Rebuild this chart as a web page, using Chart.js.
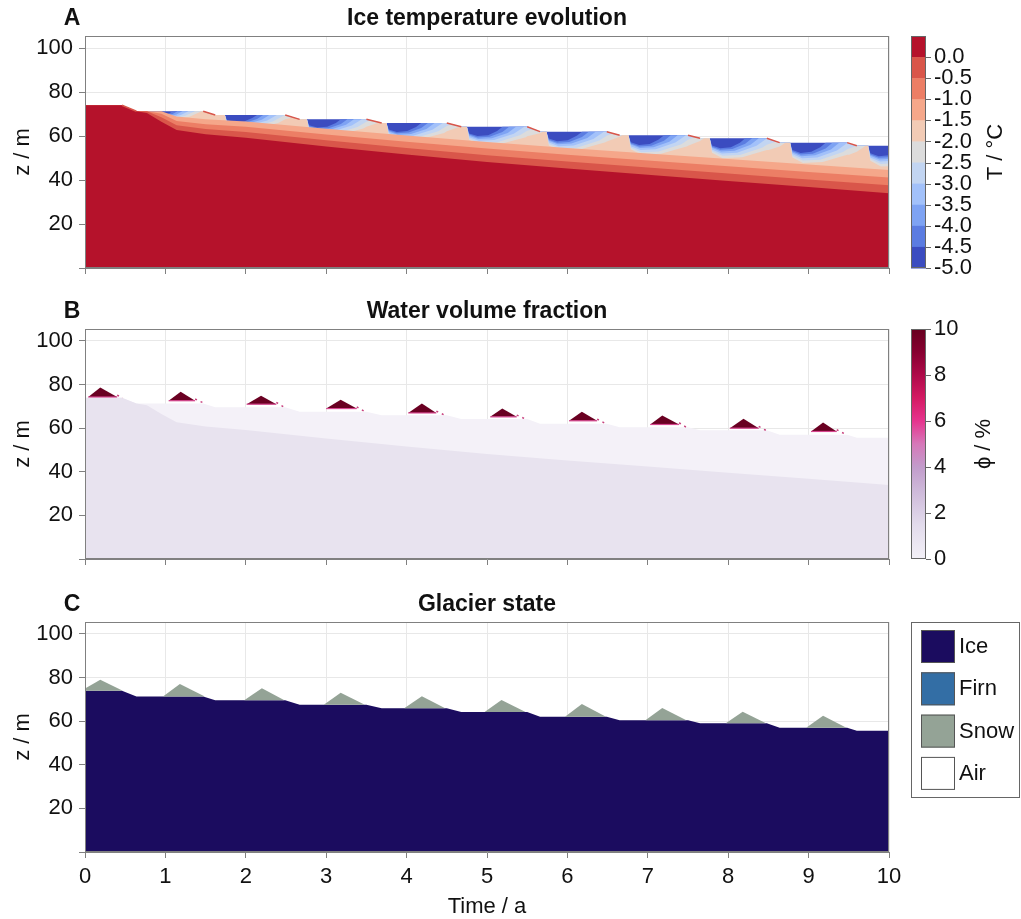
<!DOCTYPE html>
<html>
<head>
<meta charset="utf-8">
<script src="https://cdn.jsdelivr.net/npm/chart.js@4.4.0/dist/chart.umd.min.js"></script>
<style>
  html, body { margin: 0; padding: 0; background: #fff; }
  #wrap { position: relative; width: 1021px; height: 919px; }
  canvas { position: absolute; left: 0; }
</style>
</head>
<body>
<div id="wrap">
  <canvas id="cA" width="1021" height="290" style="top:0px"></canvas>
  <canvas id="cB" width="1021" height="290" style="top:290px"></canvas>
  <canvas id="cC" width="1021" height="339" style="top:580px"></canvas>
</div>
<script>
// glacier surface (top of ice), time in a, height in m
const surfT = [0, 0.46, 0.64, 1.47, 1.62, 2.49, 2.67, 3.5, 3.69, 4.5, 4.68, 5.5, 5.66, 6.49, 6.65, 7.5, 7.65, 8.48, 8.64, 9.48, 9.6, 10];
const surfZ = [74, 74, 71.3, 71.3, 69.6, 69.6, 67.6, 67.6, 65.9, 65.9, 64.2, 64.2, 62.0, 62.0, 60.4, 60.4, 59.0, 59.0, 57.0, 57.0, 55.6, 55.6];

// isotherm tops under the cold layer (0, -0.5, -1.0, -1.5 degC)
const bandT  = [0, 0.46, 0.64, 0.77, 0.95, 1.14, 1.5, 2, 3, 4, 5, 6, 7, 8, 9, 10];
const redTop = [74, 74, 71.3, 70.5, 66.5, 62.7, 60.8, 59.2, 55.3, 51.6, 48.2, 45.2, 42.4, 39.6, 36.8, 34.0];
const dorTop = [74, 74, 71.3, 71.3, 68.5, 64.9, 63.2, 61.8, 58.1, 54.6, 51.3, 48.4, 45.7, 43.0, 40.3, 37.6];
const orTop  = [74, 74, 71.3, 71.3, 70.2, 66.9, 65.4, 64.2, 60.7, 57.4, 54.3, 51.5, 48.9, 46.3, 43.7, 41.1];
const salTop = [74, 74, 71.3, 71.3, 71.3, 68.9, 67.6, 66.6, 63.3, 60.2, 57.3, 54.6, 52.1, 49.6, 47.1, 44.6];

// winter cold waves below the surface
const pocketStart  = [0.77, 1.74, 2.76, 3.75, 4.75, 5.74, 6.76, 7.77, 8.77, 9.74];
const pocketDepth  = [4.5, 6.5, 7.5, 8.0, 8.4, 8.7, 8.9, 9.1, 9.3, 9.5];
const pocketLength = [0.68, 0.85, 0.9, 0.92, 0.94, 0.94, 0.94, 0.94, 0.94, 0.94];
// shape of each isotherm in a wave: phase (0..1) and depth fraction
// order: -4.5, -4.0, -3.5, -3.0, -2.5, -2.0 degC
const wavePhase = [
  [0, 0.03, 0.14, 0.28, 0.40, 0.47],
  [0, 0.03, 0.14, 0.30, 0.47, 0.56],
  [0, 0.03, 0.15, 0.33, 0.54, 0.65],
  [0, 0.03, 0.16, 0.36, 0.62, 0.76],
  [0, 0.03, 0.17, 0.40, 0.70, 0.88],
  [0, 0.03, 0.17, 0.43, 0.78, 1.0]
];
const waveDepth = [
  [0, 0.36, 0.50, 0.45, 0.22, 0],
  [0, 0.42, 0.58, 0.54, 0.28, 0],
  [0, 0.48, 0.66, 0.62, 0.33, 0],
  [0, 0.56, 0.76, 0.72, 0.38, 0],
  [0, 0.64, 0.87, 0.84, 0.46, 0],
  [0, 0.72, 1.00, 0.95, 0.56, 0]
];

// water-saturated snow (panel B)
const waterStartT = [0.04, 1.04, 2.01, 3.0, 4.02, 5.04, 6.02, 7.03, 8.02, 9.03];
const waterPeakT  = [0.19, 1.19, 2.19, 3.18, 4.19, 5.19, 6.18, 7.18, 8.19, 9.18];
const waterPeakZ  = [78.7, 76.7, 74.9, 73.0, 71.3, 69.0, 67.5, 65.8, 64.3, 62.6];
const waterEndT   = [0.40, 1.37, 2.38, 3.38, 4.37, 5.37, 6.37, 7.39, 8.38, 9.35];
const waterBaseZ  = [74.3, 72.6, 71.0, 69.0, 67.0, 65.2, 63.4, 61.7, 60.0, 58.5];

// snow cover (panel C)
const snowStartT = [0, 0.97, 1.98, 2.97, 3.97, 4.97, 5.97, 6.97, 7.97, 8.97];
const snowStartZ = [75.0, 71.3, 69.6, 67.6, 65.9, 64.2, 62.0, 60.4, 59.0, 57.0];
const snowPeakT  = [0.19, 1.18, 2.2, 3.18, 4.19, 5.18, 6.18, 7.18, 8.18, 9.18];
const snowPeakZ  = [79.0, 77.1, 75.1, 73.1, 71.4, 69.7, 67.9, 66.0, 64.3, 62.5];
const snowEndT   = [0.47, 1.49, 2.48, 3.48, 4.48, 5.48, 6.48, 7.48, 8.47, 9.47];
const snowBaseZ  = [74, 71.3, 69.6, 67.6, 65.9, 64.2, 62.0, 60.4, 59.0, 57.0];

const xTicks = [0, 1, 2, 3, 4, 5, 6, 7, 8, 9, 10];
const tempTicks = ['0.0', '-0.5', '-1.0', '-1.5', '-2.0', '-2.5', '-3.0', '-3.5', '-4.0', '-4.5', '-5.0'];
const phiTicks = [10, 8, 6, 4, 2, 0];

// colours of the temperature levels, warm to cold
const tempColors = ['#b5122b', '#d9564a', '#ec7e65', '#f5a78a', '#f2cbb5', '#dcdcdc',
                    '#c2d5f2', '#a2c1fa', '#7ea3f3', '#5b7ce1', '#3b4cc0'];
const ICE = '#1b0c5f', FIRN = '#336ea5', SNOW = '#94a396';
const FONT = '"Liberation Sans", Arial, Helvetica, sans-serif';
const FS = 22;

Chart.defaults.font.family = FONT;
Chart.defaults.font.size = FS;
Chart.defaults.color = '#111';

function interp(xs, ys, t) {
  if (t <= xs[0]) return ys[0];
  for (let i = 1; i < xs.length; i++) {
    if (t <= xs[i]) {
      const f = (t - xs[i - 1]) / (xs[i] - xs[i - 1] || 1);
      return ys[i - 1] + f * (ys[i] - ys[i - 1]);
    }
  }
  return ys[ys.length - 1];
}
const pts = (xs, ys) => xs.map((x, i) => ({ x, y: ys[i] }));

// bottom of one isotherm band: surface minus the wave depth
function waveCurve(b) {
  let ts = surfT.slice();
  pocketStart.forEach((s, k) => wavePhase[b].forEach(p => ts.push(s + p * pocketLength[k])));
  ts = ts.filter(t => t <= 10.8).sort((a, c) => a - c);
  return ts.map(t => {
    let d = 0;
    pocketStart.forEach((s, k) => {
      const e = s + pocketLength[k];
      if (t >= s && t <= e) {
        d = interp(wavePhase[b].map(p => s + p * pocketLength[k]), waveDepth[b], t) * pocketDepth[k];
      }
    });
    return { x: t, y: interp(surfT, surfZ, t) - d };
  });
}

function area(data, color, fill) {
  return { data, backgroundColor: color, borderColor: 'rgba(0,0,0,0)', borderWidth: 0,
           fill: fill === undefined ? 'origin' : fill, pointRadius: 0, tension: 0 };
}
// list is bottom layer first; Chart.js draws high `order` first
function layered(list) {
  return list.map((d, i) => Object.assign(d, { order: list.length - i }));
}

function baseOptions(padTop, xHeight, showX) {
  return {
    responsive: false,
    animation: false,
    events: [],
    layout: { padding: { left: 0, right: 132, top: padTop, bottom: 0 } },
    plugins: { legend: { display: false }, tooltip: { enabled: false } },
    scales: {
      x: {
        type: 'linear', min: 0, max: 10,
        afterFit: s => { s.height = xHeight; },
        grid: { color: '#e8e8e8', tickLength: 6, tickColor: '#808080' },
        border: { color: '#808080' },
        ticks: { stepSize: 1, display: showX, padding: 6, autoSkip: false, maxRotation: 0,
                 callback: v => xTicks.includes(v) ? String(v) : '' }
      },
      y: {
        min: 0, max: 105.5,
        afterFit: s => { s.width = 85; },
        grid: { color: '#e8e8e8', tickLength: 6, tickColor: '#808080' },
        border: { color: '#808080' },
        ticks: { stepSize: 20, includeBounds: false, padding: 6, callback: v => v === 0 ? '' : String(v) }
      }
    }
  };
}

function vText(ctx, s, x, y) {
  ctx.save();
  ctx.translate(x, y);
  ctx.rotate(-Math.PI / 2);
  ctx.textAlign = 'center';
  ctx.textBaseline = 'middle';
  ctx.fillText(s, 0, 0);
  ctx.restore();
}

function decor(letter, title, extra) {
  return {
    id: 'decor' + letter,
    afterDraw(chart) {
      const ctx = chart.ctx, a = chart.chartArea;
      ctx.save();
      ctx.strokeStyle = '#808080';
      ctx.lineWidth = 1;
      ctx.strokeRect(Math.round(a.left) + 0.5, Math.round(a.top) + 0.5,
                     Math.round(a.right - a.left) - 1, Math.round(a.bottom - a.top) - 1);
      ctx.fillStyle = '#111';
      ctx.font = 'bold 23px ' + FONT;
      ctx.textBaseline = 'middle';
      ctx.textAlign = 'center';
      ctx.fillText(letter, 72, a.top - 17);
      ctx.fillText(title, (a.left + a.right) / 2, a.top - 17);
      ctx.font = FS + 'px ' + FONT;
      vText(ctx, 'z / m', 23, (a.top + a.bottom) / 2);
      extra(ctx, a);
      ctx.restore();
    }
  };
}

// ---------- panel A: temperature ----------
const layersA = [area(pts(surfT, surfZ), tempColors[10])];
const waveFill = [tempColors[9], tempColors[8], tempColors[7], tempColors[6], tempColors[5], tempColors[4]];
waveFill.forEach((c, b) => layersA.push(area(waveCurve(b), c)));
layersA.push(area(pts(bandT, salTop), tempColors[3]));
layersA.push(area(pts(bandT, orTop), tempColors[2]));
layersA.push(area(pts(bandT, dorTop), tempColors[1]));
layersA.push(area(pts(bandT, redTop), tempColors[0]));
// warm rim where the surface melts down
const rim = [];
for (let i = 1; i + 1 < surfT.length; i += 2) {
  rim.push({ x: surfT[i], y: surfZ[i] }, { x: surfT[i + 1], y: surfZ[i + 1] }, { x: surfT[i + 1], y: null });
}
layersA.push({ data: rim, borderColor: '#d9564a', borderWidth: 1.5, fill: false, pointRadius: 0, spanGaps: false });

new Chart(document.getElementById('cA'), {
  type: 'line',
  data: { datasets: layered(layersA) },
  options: baseOptions(36, 22, false),
  plugins: [decor('A', 'Ice temperature evolution', (ctx, a) => {
    const x0 = 911, w = 15, h = (a.bottom - a.top) / 11;
    tempColors.forEach((c, i) => {
      ctx.fillStyle = c;
      ctx.fillRect(x0, a.top + i * h, w, h + 0.5);
    });
    ctx.strokeStyle = '#666';
    ctx.strokeRect(x0 + 0.5, a.top + 0.5, w - 1, a.bottom - a.top - 1);
    ctx.fillStyle = '#111';
    ctx.textAlign = 'left';
    ctx.textBaseline = 'middle';
    tempTicks.forEach((s, i) => {
      const y = a.top + (i + 1) * h;
      ctx.beginPath(); ctx.moveTo(x0 + w, Math.round(y) + 0.5); ctx.lineTo(x0 + w + 5, Math.round(y) + 0.5); ctx.stroke();
      ctx.fillText(s, 934, y);
    });
    vText(ctx, 'T / °C', 996, (a.top + a.bottom) / 2);
  })]
});

// ---------- panel B: water content ----------
const layersB = [
  area(pts(surfT, surfZ), '#f4f1f8'),
  area(pts(bandT, redTop), '#e8e3ef')
];
waterStartT.forEach((s, k) => {
  layersB.push(area([{ x: s, y: waterBaseZ[k] }, { x: waterPeakT[k], y: waterPeakZ[k] }, { x: waterEndT[k], y: waterBaseZ[k] }],
                    '#6a0022', { value: waterBaseZ[k] }));
  // lighter rim along the bottom of the wet snow
  layersB.push({ data: [{ x: s, y: waterBaseZ[k] }, { x: waterEndT[k], y: waterBaseZ[k] }],
                 borderColor: '#d6468f', borderWidth: 1.2, fill: false, pointRadius: 0 });
  layersB.push({ data: [{ x: waterEndT[k], y: waterBaseZ[k] + 0.8 }, { x: snowEndT[k], y: snowBaseZ[k] }],
                 borderColor: '#c8407e', borderWidth: 1.5, borderDash: [2, 4], fill: false, pointRadius: 0 });
});

new Chart(document.getElementById('cB'), {
  type: 'line',
  data: { datasets: layered(layersB) },
  options: baseOptions(39, 21, false),
  plugins: [decor('B', 'Water volume fraction', (ctx, a) => {
    const x0 = 911, w = 15;
    const g = ctx.createLinearGradient(0, a.bottom, 0, a.top);
    [['0', '#f3f0f7'], ['0.15', '#e2dbec'], ['0.3', '#cdb8d9'], ['0.4', '#c29ccb'], ['0.5', '#d678b9'],
     ['0.6', '#e6348e'], ['0.7', '#d41a63'], ['0.8', '#ae0a49'], ['0.9', '#870030'], ['1', '#67001f']]
      .forEach(([o, c]) => g.addColorStop(+o, c));
    ctx.fillStyle = g;
    ctx.fillRect(x0, a.top, w, a.bottom - a.top);
    ctx.strokeStyle = '#666';
    ctx.strokeRect(x0 + 0.5, a.top + 0.5, w - 1, a.bottom - a.top - 1);
    ctx.fillStyle = '#111';
    ctx.textAlign = 'left';
    ctx.textBaseline = 'middle';
    phiTicks.forEach(v => {
      const y = a.bottom - v / 10 * (a.bottom - a.top);
      ctx.beginPath(); ctx.moveTo(x0 + w, Math.round(y) + 0.5); ctx.lineTo(x0 + w + 5, Math.round(y) + 0.5); ctx.stroke();
      ctx.fillText(String(v), 934, y);
    });
    vText(ctx, 'ϕ / %', 984, (a.top + a.bottom) / 2);
  })]
});

// ---------- panel C: glacier state ----------
const layersC = [area(pts(surfT, surfZ), ICE)];
snowStartT.forEach((s, k) => {
  layersC.push(area([{ x: s, y: snowStartZ[k] }, { x: snowPeakT[k], y: snowPeakZ[k] }, { x: snowEndT[k], y: snowBaseZ[k] }],
                    SNOW, { value: snowBaseZ[k] }));
});
const legendItems = [['Ice', ICE], ['Firn', FIRN], ['Snow', SNOW], ['Air', '#ffffff']];

new Chart(document.getElementById('cC'), {
  type: 'line',
  data: { datasets: layered(layersC) },
  options: baseOptions(42, 67, true),
  plugins: [decor('C', 'Glacier state', (ctx, a) => {
    ctx.textAlign = 'center';
    ctx.textBaseline = 'middle';
    ctx.fillText('Time / a', (a.left + a.right) / 2, 327);
    ctx.strokeStyle = '#666';
    ctx.strokeRect(911.5, a.top + 0.5, 108, 175);
    ctx.textAlign = 'left';
    legendItems.forEach(([name, c], i) => {
      const y = a.top + 8 + i * 42.3;
      ctx.fillStyle = c;
      ctx.fillRect(921, y, 34, 33);
      ctx.strokeStyle = '#555';
      ctx.strokeRect(921.5, y + 0.5, 33, 32);
      ctx.fillStyle = '#111';
      ctx.fillText(name, 959, y + 17);
    });
  })]
});
</script>
</body>
</html>
